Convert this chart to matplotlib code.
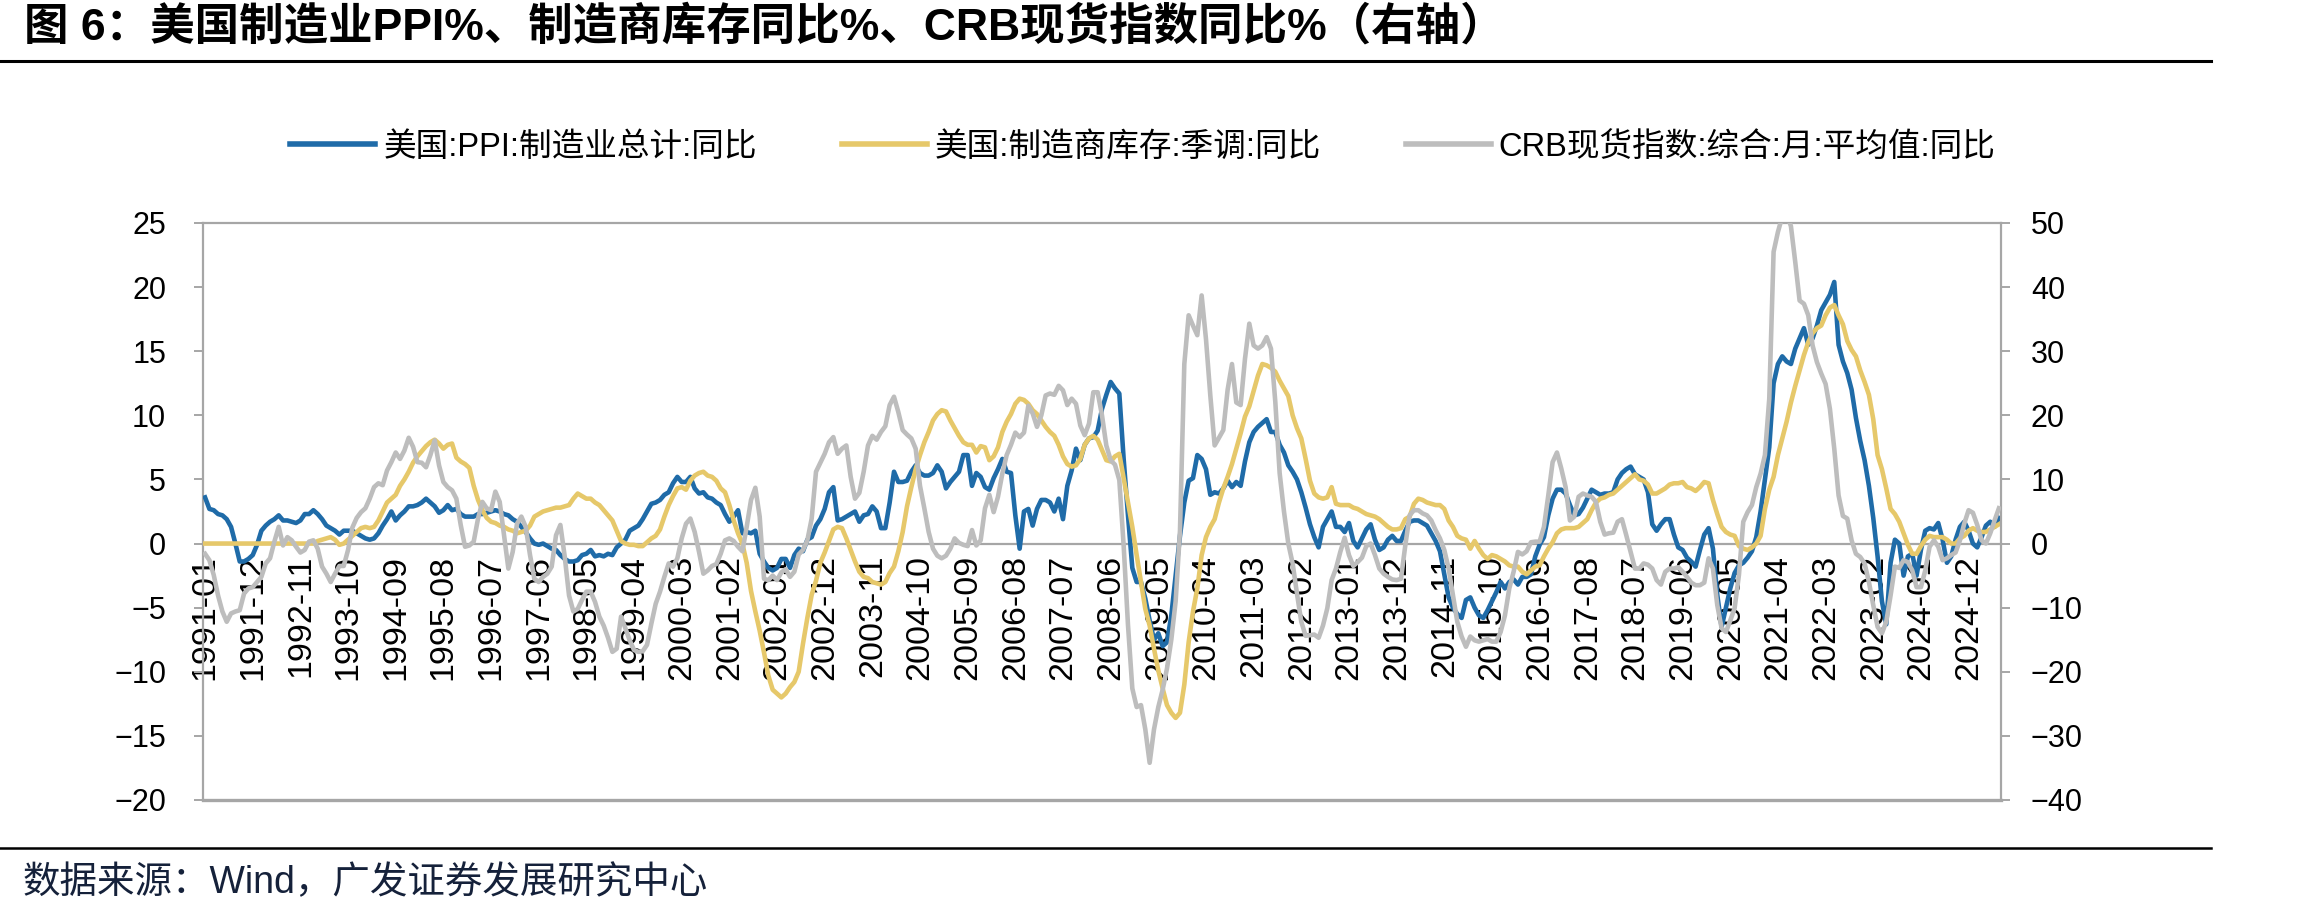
import numpy as np
import matplotlib
matplotlib.use("Agg")
import matplotlib.pyplot as plt
from matplotlib.lines import Line2D

# ---- data (monthly, 1991-01 .. 2025-07) ----
months = [f"{y}-{m:02d}" for y in range(1991, 2026) for m in range(1, 13)][:415]

ppi = [
    3.6, 2.7, 2.6, 2.3, 2.2, 1.9, 1.3, 0.0, -1.4, -1.4, -1.2, -0.9,
    -0.1, 1.0, 1.4, 1.7, 1.9, 2.2, 1.8, 1.8, 1.7, 1.6, 1.8, 2.3,
    2.3, 2.6, 2.3, 1.9, 1.4, 1.2, 1.0, 0.7, 1.0, 1.0, 1.0, 0.8,
    0.6, 0.4, 0.3, 0.4, 0.8, 1.4, 1.9, 2.5, 1.8, 2.2, 2.5, 2.9,
    2.9, 3.0, 3.2, 3.5, 3.2, 2.9, 2.4, 2.6, 3.0, 2.6, 2.7, 2.3,
    2.1, 2.1, 2.1, 2.3, 2.3, 2.4, 2.5, 2.6, 2.5, 2.3, 2.2, 1.9,
    1.7, 1.3, 0.9, 0.4, 0.0, -0.1, 0.0, -0.2, -0.4, -0.5, -0.9, -1.2,
    -1.4, -1.4, -1.3, -0.9, -0.8, -0.5, -1.0, -0.9, -1.0, -0.8, -0.9, -0.3,
    0.0, 0.3, 1.0, 1.2, 1.4, 1.9, 2.5, 3.1, 3.2, 3.4, 3.8, 4.0,
    4.7, 5.2, 4.8, 4.8, 5.2, 4.3, 3.9, 4.0, 3.6, 3.5, 3.2, 3.0,
    2.3, 1.7, 2.1, 2.6, 0.8, 0.9, 0.8, 1.0, -0.8, -1.4, -1.9, -2.1,
    -1.9, -1.2, -1.2, -1.9, -0.9, -0.4, -0.6, 0.3, 0.5, 1.4, 1.9, 2.7,
    4.0, 4.4, 1.8, 1.9, 2.1, 2.3, 2.5, 1.7, 2.2, 2.3, 2.9, 2.5,
    1.2, 1.2, 3.2, 5.6, 4.8, 4.8, 4.9, 5.6, 6.1, 5.5, 5.3, 5.3,
    5.5, 6.1, 5.6, 4.3, 4.8, 5.2, 5.6, 6.9, 6.9, 4.5, 5.5, 5.2,
    4.4, 4.2, 5.1, 5.8, 6.6, 5.6, 5.5, 2.2, -0.4, 2.5, 2.7, 1.4,
    2.7, 3.4, 3.4, 3.2, 2.5, 3.5, 1.9, 4.5, 5.7, 7.4, 6.5, 7.7,
    8.2, 8.3, 8.8, 10.5, 11.6, 12.6, 12.1, 11.7, 6.6, 2.2, -1.9, -3.0,
    -3.0, -4.3, -6.0, -7.5, -7.0, -8.0, -7.7, -5.6, -2.5, 0.6, 3.2, 4.9,
    5.1, 6.9, 6.6, 5.8, 3.8, 4.0, 3.9, 4.3, 4.9, 4.4, 4.8, 4.5,
    6.4, 7.9, 8.7, 9.1, 9.4, 9.7, 8.7, 8.7, 7.7, 7.1, 6.1, 5.6,
    5.0, 4.0, 2.8, 1.5, 0.5, -0.3, 1.3, 1.9, 2.5, 1.3, 1.3, 0.9,
    1.6, 0.2, -0.3, 0.4, 1.1, 1.5, 0.3, -0.5, -0.3, 0.3, 0.6, 0.2,
    0.2, 1.0, 1.7, 1.8, 1.8, 1.6, 1.4, 0.8, 0.2, -0.6, -2.4, -4.2,
    -5.0, -5.5, -5.8, -4.4, -4.2, -5.0, -5.6, -5.8, -5.2, -4.5, -3.8, -3.0,
    -3.5, -3.0, -2.8, -3.2, -2.6, -2.6, -2.4, -1.0, -0.1, 0.5, 2.2, 3.5,
    4.2, 4.2, 3.9, 3.0, 2.2, 2.3, 2.8, 3.5, 4.2, 4.0, 3.8, 3.9,
    3.9, 4.0, 5.0, 5.5, 5.8, 6.0, 5.4, 5.2, 5.0, 4.0, 1.5, 1.0,
    1.5, 1.9, 1.9, 0.7, -0.3, -0.5, -1.1, -1.4, -1.8, -0.5, 0.7, 1.2,
    -0.4, -4.0, -6.5, -5.0, -3.5, -2.3, -1.7, -1.5, -1.1, -0.6, 0.5, 2.5,
    5.0, 7.5, 12.5, 14.0, 14.6, 14.2, 14.0, 15.2, 16.0, 16.8, 15.5, 16.0,
    17.0, 18.2, 18.8, 19.4, 20.4, 15.5, 14.2, 13.3, 12.0, 9.8, 8.0, 6.5,
    4.5, 2.0, -1.0, -4.5, -6.3, -1.5, 0.3, 0.0, -2.5, -1.0, -0.8, -2.5,
    -0.5, 1.0, 1.2, 1.1, 1.6, 0.3, -1.5, -1.0, 0.3, 1.3, 1.7, 1.0,
    0.0, -0.3, 0.5, 1.4, 1.7, 1.3, 2.0,
]

inventory = [
    0.0, 0.0, 0.0, 0.0, 0.0, 0.0, 0.0, 0.0, 0.0, 0.0, 0.0, 0.0,
    0.0, 0.0, 0.0, 0.0, 0.0, 0.0, 0.0, 0.0, 0.0, 0.0, 0.0, 0.0,
    0.0, 0.0, 0.2, 0.3, 0.4, 0.5, 0.3, -0.1, 0.0, 0.3, 0.6, 0.9,
    1.2, 1.3, 1.2, 1.3, 1.8, 2.5, 3.2, 3.5, 3.8, 4.5, 5.0, 5.6,
    6.3, 6.8, 7.2, 7.6, 7.9, 8.1, 7.8, 7.4, 7.7, 7.8, 6.7, 6.4,
    6.2, 5.9, 4.5, 3.4, 2.6, 2.0, 1.7, 1.6, 1.4, 1.3, 1.1, 1.0,
    0.8, 0.9, 1.0, 1.4, 2.1, 2.3, 2.5, 2.6, 2.7, 2.8, 2.8, 2.9,
    3.0, 3.5, 3.9, 3.7, 3.5, 3.5, 3.2, 3.0, 2.6, 2.2, 1.8, 1.0,
    0.2, 0.0, -0.1, -0.1, -0.2, -0.2, 0.1, 0.4, 0.6, 1.1, 2.1, 3.0,
    3.7, 4.3, 4.4, 4.2, 4.9, 5.3, 5.5, 5.6, 5.3, 5.2, 4.9, 4.3,
    4.0, 3.0, 1.8, 0.8, 0.0, -1.5, -3.7, -5.3, -6.8, -8.5, -10.3, -11.4,
    -11.7, -12.0, -11.7, -11.2, -10.8, -10.0, -7.8, -5.8, -4.0, -2.9, -1.5, -0.7,
    0.2, 1.1, 1.3, 1.2, 0.4, -0.5, -1.4, -2.2, -2.6, -2.7, -3.0, -3.1,
    -3.2, -3.0, -2.3, -1.8, -0.6, 0.9, 2.9, 4.4, 5.8, 6.9, 7.9, 8.7,
    9.6, 10.1, 10.4, 10.3, 9.6, 9.0, 8.4, 7.9, 7.7, 7.7, 7.1, 7.6,
    7.5, 6.5, 6.8, 7.5, 8.7, 9.5, 10.1, 10.9, 11.3, 11.2, 10.9, 10.4,
    10.1, 9.6, 9.1, 8.7, 8.4, 7.7, 6.8, 6.2, 6.0, 6.1, 6.6, 7.7,
    8.2, 8.4, 8.1, 7.3, 6.5, 6.4, 6.8, 7.0, 5.1, 3.2, 1.3, -0.9,
    -3.0, -5.1, -6.4, -8.2, -9.9, -11.3, -12.6, -13.2, -13.6, -13.2, -11.0, -7.7,
    -5.3, -3.5, -0.9, 0.5, 1.3, 1.9, 3.2, 4.3, 5.2, 6.2, 7.4, 8.6,
    9.9, 10.7, 11.9, 13.1, 14.0, 13.9, 13.7, 13.4, 12.7, 12.1, 11.5, 10.0,
    9.0, 8.2, 6.6, 4.9, 3.9, 3.6, 3.5, 3.6, 4.4, 3.1, 3.0, 3.0,
    3.0, 2.8, 2.7, 2.5, 2.3, 2.2, 2.1, 1.9, 1.6, 1.3, 1.1, 1.1,
    1.2, 1.9, 2.1, 3.1, 3.5, 3.4, 3.2, 3.1, 3.0, 3.0, 2.7, 1.8,
    1.3, 0.6, 0.4, 0.3, -0.4, 0.2, -0.4, -0.9, -1.2, -0.9, -1.0, -1.2,
    -1.4, -1.7, -1.8, -1.8, -2.2, -2.4, -2.1, -1.8, -1.7, -1.0, -0.4, 0.1,
    0.8, 1.1, 1.2, 1.2, 1.2, 1.3, 1.6, 1.9, 2.6, 3.2, 3.5, 3.6,
    3.8, 3.9, 4.2, 4.5, 4.8, 5.1, 5.4, 5.0, 4.9, 4.6, 3.9, 3.9,
    4.1, 4.3, 4.6, 4.7, 4.7, 4.8, 4.4, 4.3, 4.1, 4.4, 4.8, 4.7,
    3.4, 2.3, 1.3, 0.9, 0.7, 0.6, -0.2, -0.4, -0.5, -0.3, 0.0, 0.6,
    2.7, 4.2, 5.2, 6.9, 8.2, 9.5, 11.0, 12.3, 13.5, 14.7, 15.7, 16.4,
    16.8, 17.0, 17.8, 18.4, 18.6, 17.8, 17.1, 15.8, 15.1, 14.6, 13.5, 12.6,
    11.6, 9.7, 6.9, 5.8, 4.3, 2.7, 2.3, 1.7, 0.8, -0.1, -0.8, -0.8,
    -0.2, 0.3, 0.6, 0.5, 0.5, 0.5, 0.3, 0.0, 0.0, 0.4, 0.6, 1.0,
    1.2, 1.0, 0.9, 0.9, 1.1, 1.3, 1.5,
]

crb = [
    -1.6, -2.6, -4.9, -8.1, -10.6, -12.2, -10.9, -10.6, -10.4, -7.8, -7.0, -6.8,
    -6.0, -5.2, -3.1, -2.3, 0.3, 2.6, -0.3, 1.0, 0.5, -0.5, -1.4, -1.0,
    0.3, 0.5, -0.8, -3.6, -4.7, -6.0, -4.7, -3.5, -3.5, -1.0, 2.5, 4.0,
    4.9, 5.5, 7.0, 8.8, 9.4, 9.1, 11.4, 12.7, 14.2, 13.2, 14.5, 16.5,
    15.1, 12.7, 12.6, 11.9, 13.8, 16.1, 12.2, 9.6, 8.8, 8.3, 7.0, 2.9,
    -0.5, -0.3, 0.3, 3.9, 6.5, 5.5, 5.2, 8.1, 6.5, 1.3, -3.9, -1.3,
    3.1, 4.2, 2.6, -1.8, -5.5, -6.0, -5.2, -4.7, -3.6, 1.3, 2.9, -2.0,
    -8.1, -10.6, -10.2, -8.8, -7.5, -7.5, -9.1, -11.4, -12.8, -14.7, -16.9, -16.4,
    -11.4, -13.2, -15.1, -16.6, -16.9, -16.8, -15.8, -12.5, -9.4, -7.5, -5.2, -3.1,
    -3.6, -2.3, 0.8, 3.1, 3.9, 1.8, -1.3, -4.7, -4.2, -3.5, -3.2, -1.6,
    0.5, 0.8, 0.4, -0.5, -1.2, 2.6, 6.8, 8.7, 4.2, -5.5, -5.7, -5.0,
    -5.7, -4.5, -4.0, -5.2, -4.4, -1.7, -1.0, 0.5, 3.9, 11.2, 12.6, 14.0,
    15.8, 16.6, 14.0, 14.8, 15.3, 10.4, 7.0, 7.9, 11.2, 15.3, 16.8, 16.2,
    17.4, 18.3, 21.6, 22.9, 20.5, 17.7, 17.0, 16.4, 14.8, 9.0, 5.5, 1.8,
    -0.8, -1.9, -2.3, -1.9, -0.8, 0.8, 0.1, -0.2, -0.4, 2.1, -0.3, 0.5,
    5.5, 7.6, 4.9, 7.3, 10.9, 13.8, 15.4, 17.3, 16.6, 17.3, 21.5, 20.3,
    18.2, 20.0, 23.1, 23.4, 23.2, 24.6, 23.9, 21.6, 22.6, 21.8, 18.4, 16.9,
    18.7, 23.6, 23.6, 20.0, 15.3, 13.0, 12.3, 9.9, -0.3, -12.7, -22.6, -25.5,
    -25.2, -29.0, -34.2, -29.0, -25.5, -22.8, -19.5, -15.0, -9.0, 2.0, 28.0, 35.6,
    34.0, 32.5, 38.7, 31.9, 23.1, 15.3, 16.5, 17.7, 24.0, 28.0, 22.0, 21.6,
    28.8, 34.3, 30.9, 30.4, 30.9, 32.2, 30.4, 22.1, 11.0, 5.0, 0.0, -3.1,
    -7.8, -12.2, -14.4, -14.3, -14.2, -14.7, -12.8, -10.1, -5.7, -3.9, -1.3, 0.9,
    -1.8, -3.5, -2.9, -2.2, -0.4, 0.0, -1.8, -3.9, -4.7, -5.2, -5.6, -5.7,
    -5.5, -0.3, 4.4, 5.2, 5.2, 4.7, 4.4, 3.6, 2.1, 0.8, -1.0, -3.9,
    -8.1, -12.2, -14.5, -16.1, -14.5, -15.1, -15.3, -15.1, -14.9, -15.3, -15.3, -13.8,
    -11.2, -7.0, -4.4, -1.3, -1.7, -1.2, 0.2, 0.3, 0.3, 2.6, 7.5, 12.7,
    14.2, 11.7, 8.8, 3.6, 4.2, 7.3, 7.8, 7.5, 7.3, 6.5, 3.4, 1.4,
    1.6, 1.7, 3.4, 3.8, 1.3, -1.3, -3.9, -3.9, -3.1, -3.3, -3.9, -5.7,
    -6.4, -4.4, -3.9, -3.9, -3.7, -4.4, -5.2, -6.1, -6.5, -6.5, -6.1, -2.3,
    -3.9, -9.6, -13.2, -13.8, -12.0, -10.1, -4.9, 3.4, 4.9, 6.0, 8.8, 10.9,
    13.8, 22.6, 45.5, 48.6, 51.0, 51.5, 49.5, 43.9, 37.9, 37.4, 35.6, 30.9,
    28.3, 26.5, 24.9, 21.0, 14.8, 7.5, 4.3, 3.9, 0.5, -1.6, -2.1, -3.1,
    -6.0, -9.6, -13.0, -14.0, -12.2, -8.1, -3.6, -3.8, -2.6, -2.9, -4.2, -6.8,
    -6.8, -4.2, -0.5, 0.5, -0.5, -2.6, -2.3, -1.8, -1.4, 0.5, 3.1, 5.2,
    4.8, 2.9, 0.5, 0.0, 1.6, 3.6, 5.5,
]

legend_labels = ["美国:PPI:制造业总计:同比", "美国:制造商库存:季调:同比",
                 "CRB现货指数:综合:月:平均值:同比"]

# ---- style ----
BLUE = "#1F6BA8"
YELLOW = "#E6C86A"
GREY = "#BDBDBD"
AXIS = "#A6A6A6"
plt.rcParams["font.family"] = ["Liberation Sans", "Noto Sans CJK SC"]

x = np.arange(len(months))

fig = plt.figure(figsize=(23.03, 9.15), dpi=100)
ax = fig.add_axes([0.0881, 0.1257, 0.7808, 0.6306])
ax2 = ax.twinx()

lw = 3.3
ax.plot(x, ppi, color=BLUE, lw=lw, zorder=3, solid_joinstyle="round")
ax.plot(x, inventory, color=YELLOW, lw=lw, zorder=3, solid_joinstyle="round")
ax2.plot(x, crb, color=GREY, lw=lw, zorder=3, solid_joinstyle="round")

ax.set_xlim(-0.5, len(months) - 0.5)
ax.set_ylim(-20, 25)
ax.set_yticks(range(-20, 26, 5))
ax2.set_ylim(-40, 50)
ax2.set_yticks(range(-40, 51, 10))

ticks = list(range(0, len(months), 11))
ax.set_xticks(ticks)
ax.set_xticklabels([months[i] for i in ticks])

# spines
for s in ax.spines.values():
    s.set_color(AXIS)
    s.set_linewidth(1.6)
ax.spines["right"].set_visible(False)
ax.spines["bottom"].set_position(("data", 0))
for k in ("left", "top", "bottom"):
    ax2.spines[k].set_visible(False)
ax2.spines["right"].set_color(AXIS)
ax2.spines["right"].set_linewidth(1.6)
ax.axhline(-20, color=AXIS, lw=2.4, clip_on=False, zorder=1)

ax.tick_params(axis="x", length=0, pad=8, labelsize=24.5, labelrotation=90)
ax.tick_params(axis="y", direction="out", length=6.5, width=1.4, color=AXIS,
               pad=20, labelsize=22)
ax2.tick_params(axis="y", direction="out", length=6.5, width=1.4, color=AXIS,
                pad=15, labelsize=22)

# legend
handles = [Line2D([], [], color=c, lw=4) for c in (BLUE, YELLOW, GREY)]
fig.legend(handles, legend_labels, loc="center", bbox_to_anchor=(0.4963, 0.839),
           ncol=3, frameon=False, fontsize=23.5, handlelength=2.6,
           handletextpad=0.25, columnspacing=2.6)

# title, rules, source
fig.text(0.0105, 0.9705, "图 6：美国制造业PPI%、制造商库存同比%、CRB现货指数同比%（右轴）",
         fontsize=32, fontweight="bold", va="center", ha="left")
fig.add_artist(Line2D([0, 0.96], [0.9333, 0.9333], color="black", lw=2.2))
fig.add_artist(Line2D([0, 0.96], [0.0732, 0.0732], color="black", lw=1.8))
fig.text(0.0096, 0.035, "数据来源：Wind，广发证券发展研究中心",
         fontsize=27, color="#15213A", va="center", ha="left")

fig.savefig("out.png", dpi=100)
